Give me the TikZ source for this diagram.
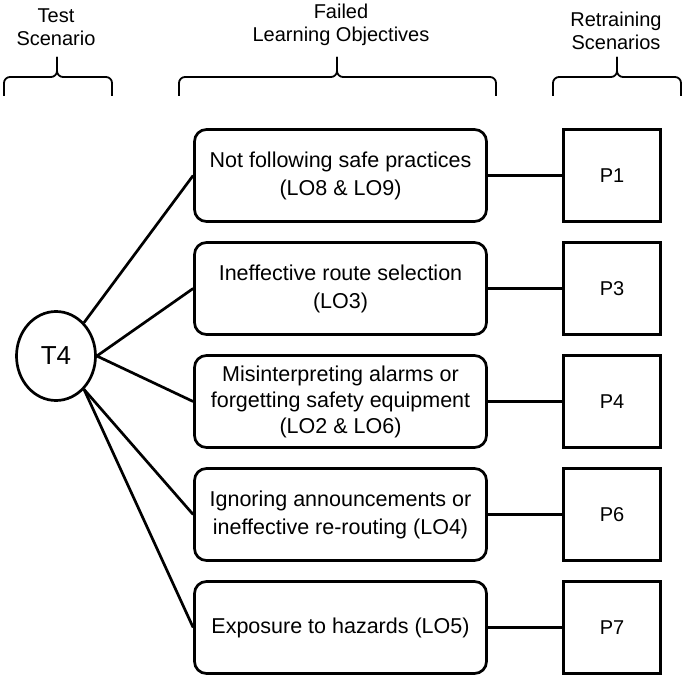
\documentclass[tikz,border=0pt]{standalone}
\usepackage{fontspec}
\setmainfont{Liberation Sans}
\usetikzlibrary{shapes.geometric}
\begin{document}
\begin{tikzpicture}[x=1pt,y=-1pt,
  lobox/.style={draw, line width=2.7pt, rounded corners=12pt, minimum width=292pt, minimum height=92pt, inner sep=0pt, align=center, font=\fontsize{21.5}{28}\selectfont},
  rsbox/.style={draw, line width=2.7pt, minimum width=97pt, minimum height=92pt, inner sep=0pt, font=\fontsize{20}{24}\selectfont},
  hdr/.style={align=center, inner sep=0pt, font=\fontsize{20}{23}\selectfont},
  conn/.style={line width=2.7pt},
  bracestyle/.style={line width=1.8pt, rounded corners=6pt}]
\useasboundingbox (0,0) rectangle (685,679);

% headers
\node[hdr] (h1) at (56,27) {Test\\Scenario};
\node[hdr] (h2) at (341,25) {Failed\\Learning Objectives};
\node[hdr] (h3) at (616,31) {Retraining\\Scenarios};

% braces
\draw[bracestyle] (4,96) -- (4,77) -- (57,77) -- (57,57);
\draw[bracestyle] (112,96) -- (112,77) -- (57,77) -- (57,57);
\draw[bracestyle] (179,96) -- (179,77) -- (337,77) -- (337,57);
\draw[bracestyle] (496,96) -- (496,77) -- (337,77) -- (337,57);
\draw[bracestyle] (553,96) -- (553,77) -- (617,77) -- (617,57);
\draw[bracestyle] (681,96) -- (681,77) -- (617,77) -- (617,57);

% test scenario
\node[draw, ellipse, line width=2.7pt, minimum width=79pt, minimum height=89pt, inner sep=0pt, font=\fontsize{26}{30}\selectfont] (t4) at (56,356) {T4};

% learning objectives
\node[lobox] (b1) at (340.5,175.5) {Not following safe practices\\(LO8 \& LO9)};
\node[lobox] (b2) at (340.5,288.5) {Ineffective route selection\\(LO3)};
\node[lobox, font=\fontsize{21.5}{26}\selectfont] (b3) at (340.5,401.5) {Misinterpreting alarms or\\forgetting safety equipment\\(LO2 \& LO6)};
\node[lobox] (b4) at (340.5,514.5) {Ignoring announcements or\\ineffective re-routing (LO4)};
\node[lobox] (b5) at (340.5,627.5) {Exposure to hazards (LO5)};

% retraining scenarios
\node[rsbox] (p1) at (612,175.5) {P1};
\node[rsbox] (p3) at (612,288.5) {P3};
\node[rsbox] (p4) at (612,401.5) {P4};
\node[rsbox] (p6) at (612,514.5) {P6};
\node[rsbox] (p7) at (612,627.5) {P7};

% connectors
\draw[conn] (t4.50) -- (b1.west);
\draw[conn] (t4.east) -- (b2.west);
\draw[conn] (t4.east) -- (b3.west);
\draw[conn] (t4.-50) -- (b4.west);
\draw[conn] (t4.-50) -- (b5.west);
\draw[conn] (b1.east) -- (p1.west);
\draw[conn] (b2.east) -- (p3.west);
\draw[conn] (b3.east) -- (p4.west);
\draw[conn] (b4.east) -- (p6.west);
\draw[conn] (b5.east) -- (p7.west);
\end{tikzpicture}
\end{document}
